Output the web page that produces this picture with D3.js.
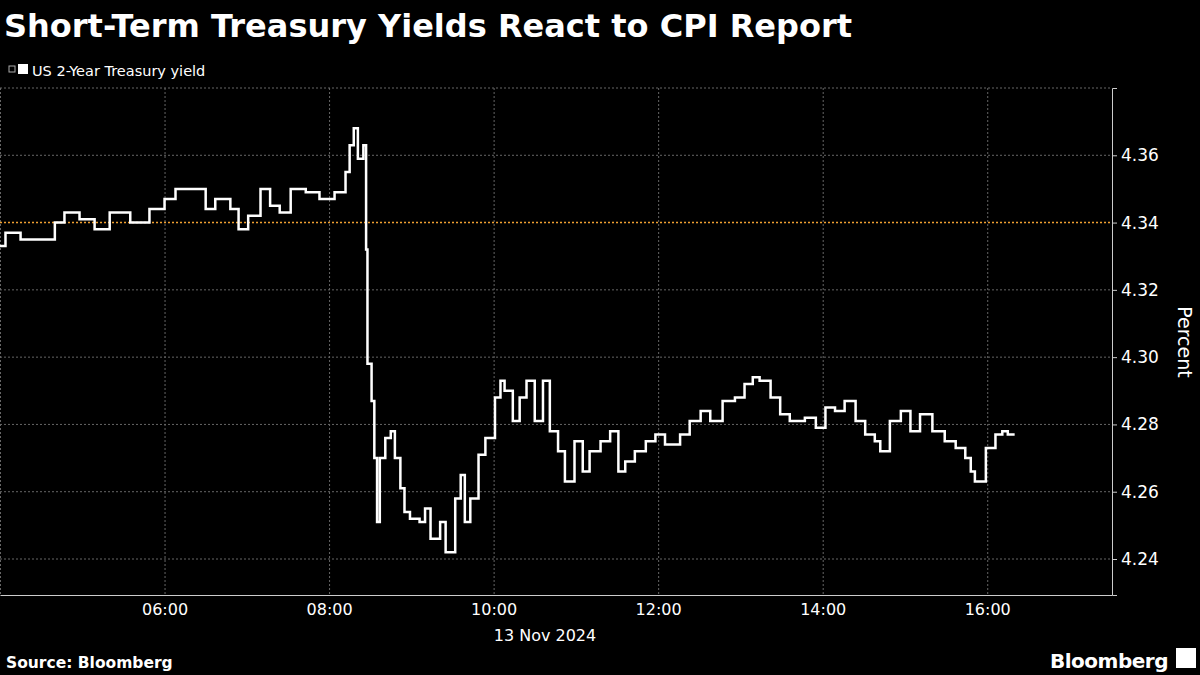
<!DOCTYPE html>
<html><head><meta charset="utf-8">
<script src="https://cdn.jsdelivr.net/npm/d3@7"></script>
<style>body{margin:0;background:#000}svg{display:block}text{font-family:"DejaVu Sans","Noto Sans",sans-serif;fill:#fff}</style>
</head><body><svg id="c" width="1200" height="675"></svg>
<script>
const times=["04:00","04:04","04:15","04:29","04:40","04:47","04:58","05:09","05:20","05:35","05:49","06:00","06:08","06:19","06:30","06:37","06:48","06:54","07:01","07:10","07:17","07:24","07:32","07:43","07:53","08:04","08:12","08:15","08:18","08:21","08:25","08:27","08:28","08:31","08:33","08:35","08:37","08:41","08:45","08:48","08:52","08:55","08:59","09:06","09:10","09:14","09:21","09:25","09:32","09:36","09:39","09:43","09:49","09:54","10:01","10:05","10:08","10:14","10:19","10:24","10:30","10:36","10:41","10:47","10:52","10:59","11:05","11:10","11:18","11:25","11:31","11:36","11:43","11:51","11:58","12:05","12:12","12:16","12:23","12:31","12:38","12:47","12:56","13:03","13:09","13:14","13:22","13:29","13:36","13:47","13:55","14:02","14:09","14:16","14:24","14:31","14:38","14:42","14:49","14:57","15:04","15:11","15:20","15:29","15:37","15:44","15:48","15:51","15:59","16:06","16:11","16:15","16:20"];
const yields=[4.333,4.337,4.335,4.335,4.340,4.343,4.341,4.338,4.343,4.340,4.344,4.347,4.350,4.350,4.344,4.347,4.344,4.338,4.342,4.350,4.345,4.343,4.350,4.349,4.347,4.349,4.355,4.363,4.368,4.359,4.363,4.332,4.298,4.287,4.270,4.251,4.270,4.276,4.278,4.270,4.261,4.254,4.252,4.251,4.255,4.246,4.251,4.242,4.258,4.265,4.251,4.258,4.271,4.276,4.288,4.293,4.290,4.281,4.288,4.293,4.281,4.293,4.278,4.272,4.263,4.275,4.266,4.272,4.275,4.278,4.266,4.269,4.272,4.275,4.277,4.274,4.274,4.277,4.281,4.284,4.281,4.287,4.288,4.292,4.294,4.293,4.288,4.283,4.281,4.282,4.279,4.285,4.284,4.287,4.281,4.277,4.275,4.272,4.281,4.284,4.278,4.283,4.278,4.275,4.273,4.270,4.266,4.263,4.273,4.277,4.278,4.277,4.277];
const yTicks=[4.24,4.26,4.28,4.30,4.32,4.34,4.36];
const xTicks=["06:00","08:00","10:00","12:00","14:00","16:00"];
const refLine=4.34;

const svg=d3.select("#c");
const parse=d3.timeParse("%Y-%m-%d %H:%M");
const t=s=>parse("2024-11-13 "+s);
const data=times.map((s,i)=>({d:t(s),v:yields[i]}));
const L=0,R=1112,T=88,B=595;
const x=d3.scaleTime().domain([t("04:00"),t("17:31")]).range([L,R]);
const y=d3.scaleLinear().domain([4.2293,4.38]).range([B,T]);

svg.append("rect").attr("width",1200).attr("height",675).attr("fill","#000");
const g=svg.append("g");
g.selectAll(".hg").data(yTicks.concat([4.38])).join("line").attr("x1",L).attr("x2",R)
 .attr("y1",d=>y(d)).attr("y2",d=>y(d)).attr("stroke","#666").attr("stroke-dasharray","2,2").attr("stroke-width",1);
g.selectAll(".vg").data(xTicks.map(t).concat([t("04:00")])).join("line").attr("x1",d=>x(d)+0.5).attr("x2",d=>x(d)+0.5)
 .attr("y1",T).attr("y2",B).attr("stroke","#666").attr("stroke-dasharray","2,2").attr("stroke-width",1);
g.append("line").attr("x1",L).attr("x2",R).attr("y1",y(refLine)).attr("y2",y(refLine))
 .attr("stroke","#f0a030").attr("stroke-dasharray","2,2").attr("stroke-width",1.5);
g.append("path").datum(data).attr("fill","none").attr("stroke","#fff").attr("stroke-width",2.5)
 .attr("d",d3.line().x(d=>x(d.d)).y(d=>y(d.v)).curve(d3.curveStepAfter));
const ya=svg.append("g").attr("transform",`translate(${R},0)`)
 .call(d3.axisRight(y).tickValues(yTicks).tickFormat(d3.format(".2f")).tickSize(5).tickPadding(4));
ya.select(".domain").attr("stroke","#ccc");
ya.selectAll("line").attr("stroke","#ccc");
ya.selectAll("text").attr("fill","#fff").style("font-size","17px");
const xa=svg.append("g").attr("transform",`translate(0,${B})`)
 .call(d3.axisBottom(x).tickValues(xTicks.map(t)).tickFormat(d3.timeFormat("%H:%M")).tickSize(0).tickPadding(9));
xa.select(".domain").attr("stroke","#ccc");
xa.selectAll("text").attr("fill","#fff").style("font-size","16px");
svg.append("text").attr("x",545).attr("y",641).attr("text-anchor","middle").style("font-size","16px").text("13 Nov 2024");
svg.append("text").attr("transform","translate(1178,342) rotate(90)").attr("text-anchor","middle").style("font-size","19px").text("Percent");
svg.append("text").attr("x",4).attr("y",37).style("font-size","32px").style("font-weight","bold").text("Short-Term Treasury Yields React to CPI Report");
svg.append("rect").attr("x",9).attr("y",66).attr("width",6).attr("height",6).attr("fill","none").attr("stroke","#aaa");
svg.append("rect").attr("x",18).attr("y",64).attr("width",10).attr("height",10).attr("fill","#fff");
svg.append("text").attr("x",32).attr("y",76).style("font-size","14.5px").text("US 2-Year Treasury yield");
svg.append("text").attr("x",6).attr("y",668).style("font-size","15.5px").style("font-weight","bold").text("Source: Bloomberg");
svg.append("text").attr("x",1168).attr("y",668).attr("text-anchor","end").style("font-size","20px").style("font-weight","bold").style("letter-spacing","-0.5px").text("Bloomberg");
svg.append("rect").attr("x",1176).attr("y",648).attr("width",20).attr("height",20).attr("fill","#fff");
</script></body></html>
